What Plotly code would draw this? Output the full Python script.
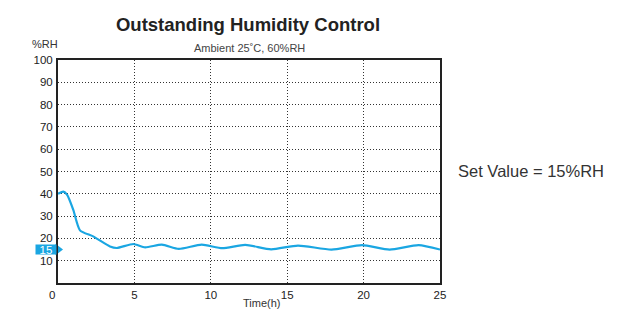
import plotly.graph_objects as go

# Humidity over time (hours, %RH)
time_h = [0.0, 0.35, 0.6, 1.0, 1.44, 2.3, 3.4, 3.84, 4.93, 5.7, 6.8, 7.9, 9.4,
          10.75, 12.25, 13.95, 15.7, 17.9, 19.9, 21.7, 23.6, 25.0]
rh = [40.0, 41.0, 39.5, 32.8, 23.6, 20.9, 16.4, 15.7, 17.5, 16.0, 17.2, 15.3, 17.2,
      15.6, 17.1, 15.1, 16.8, 15.0, 17.0, 15.0, 17.0, 15.0]

set_value = 15
x_ticks = [0, 5, 10, 15, 20, 25]
x_labels = ["0\u2002\u2002", "5", "10", "15", "20", "25"]
y_ticks = [10, 20, 30, 40, 50, 60, 70, 80, 90, 100]

FONT = "Liberation Sans, Arial, sans-serif"
BLUE = "#1aa6e2"

fig = go.Figure()
fig.add_trace(go.Scatter(
    x=time_h, y=rh, mode="lines",
    line=dict(color=BLUE, width=2.2, shape="spline", smoothing=0.6),
    hoverinfo="skip", showlegend=False,
))
# Set-value pointer on the y axis
fig.add_trace(go.Scatter(
    x=[0], y=[set_value], mode="markers",
    marker=dict(symbol="triangle-right", size=10, color=BLUE),
    cliponaxis=False, hoverinfo="skip", showlegend=False,
))

fig.update_layout(
    width=639, height=325,
    margin=dict(l=58, r=199, t=60, b=42),
    paper_bgcolor="white", plot_bgcolor="white",
    font=dict(family=FONT, size=12, color="#222"),
    title=dict(text="<b>Outstanding Humidity Control</b>",
               x=248 / 639, xref="container", xanchor="center",
               y=1 - 25 / 325, yref="container", yanchor="middle",
               font=dict(size=18.5, color="#222")),
)

grid = dict(showgrid=True, gridcolor="#333", griddash="1px,2px", gridwidth=1,
            showline=True, linecolor="#222", linewidth=2, mirror=True,
            ticks="", zeroline=False, tickfont=dict(size=11.5, color="#222"))

fig.update_xaxes(range=[0, 25], tickvals=x_ticks, ticktext=x_labels, **grid)
fig.update_yaxes(range=[0, 100], tickvals=y_ticks, ticktext=[str(v) for v in y_ticks],
                 ticklabelstandoff=1, **grid)

fig.add_annotation(text="15", x=0, y=set_value, xref="x", yref="y",
                   xanchor="right", yanchor="middle", xshift=-1, showarrow=False,
                   bgcolor=BLUE, borderpad=0, width=20, height=9,
                   font=dict(size=11.5, color="white", family=FONT))
fig.add_annotation(text="Ambient 25˚C, 60%RH", x=(249 - 58) / 382, y=1 + 12 / 223,
                   xref="paper", yref="paper", showarrow=False,
                   xanchor="center", yanchor="middle",
                   font=dict(size=11, color="#444"))
fig.add_annotation(text="%RH", x=-13 / 382, y=1 + 16 / 223,
                   xref="paper", yref="paper", showarrow=False,
                   xanchor="center", yanchor="middle",
                   font=dict(size=11, color="#333"))
fig.add_annotation(text="Time(h)", x=(261 - 58) / 382, y=-20 / 223,
                   xref="paper", yref="paper", showarrow=False,
                   xanchor="center", yanchor="middle",
                   font=dict(size=11, color="#333"))
fig.add_annotation(text="Set Value = 15%RH", x=1 + 16 / 382, y=(283 - 171) / 223,
                   xref="paper", yref="paper", showarrow=False,
                   xanchor="left", yanchor="middle",
                   font=dict(size=16.5, color="#333"))

fig.write_html("out.html")
